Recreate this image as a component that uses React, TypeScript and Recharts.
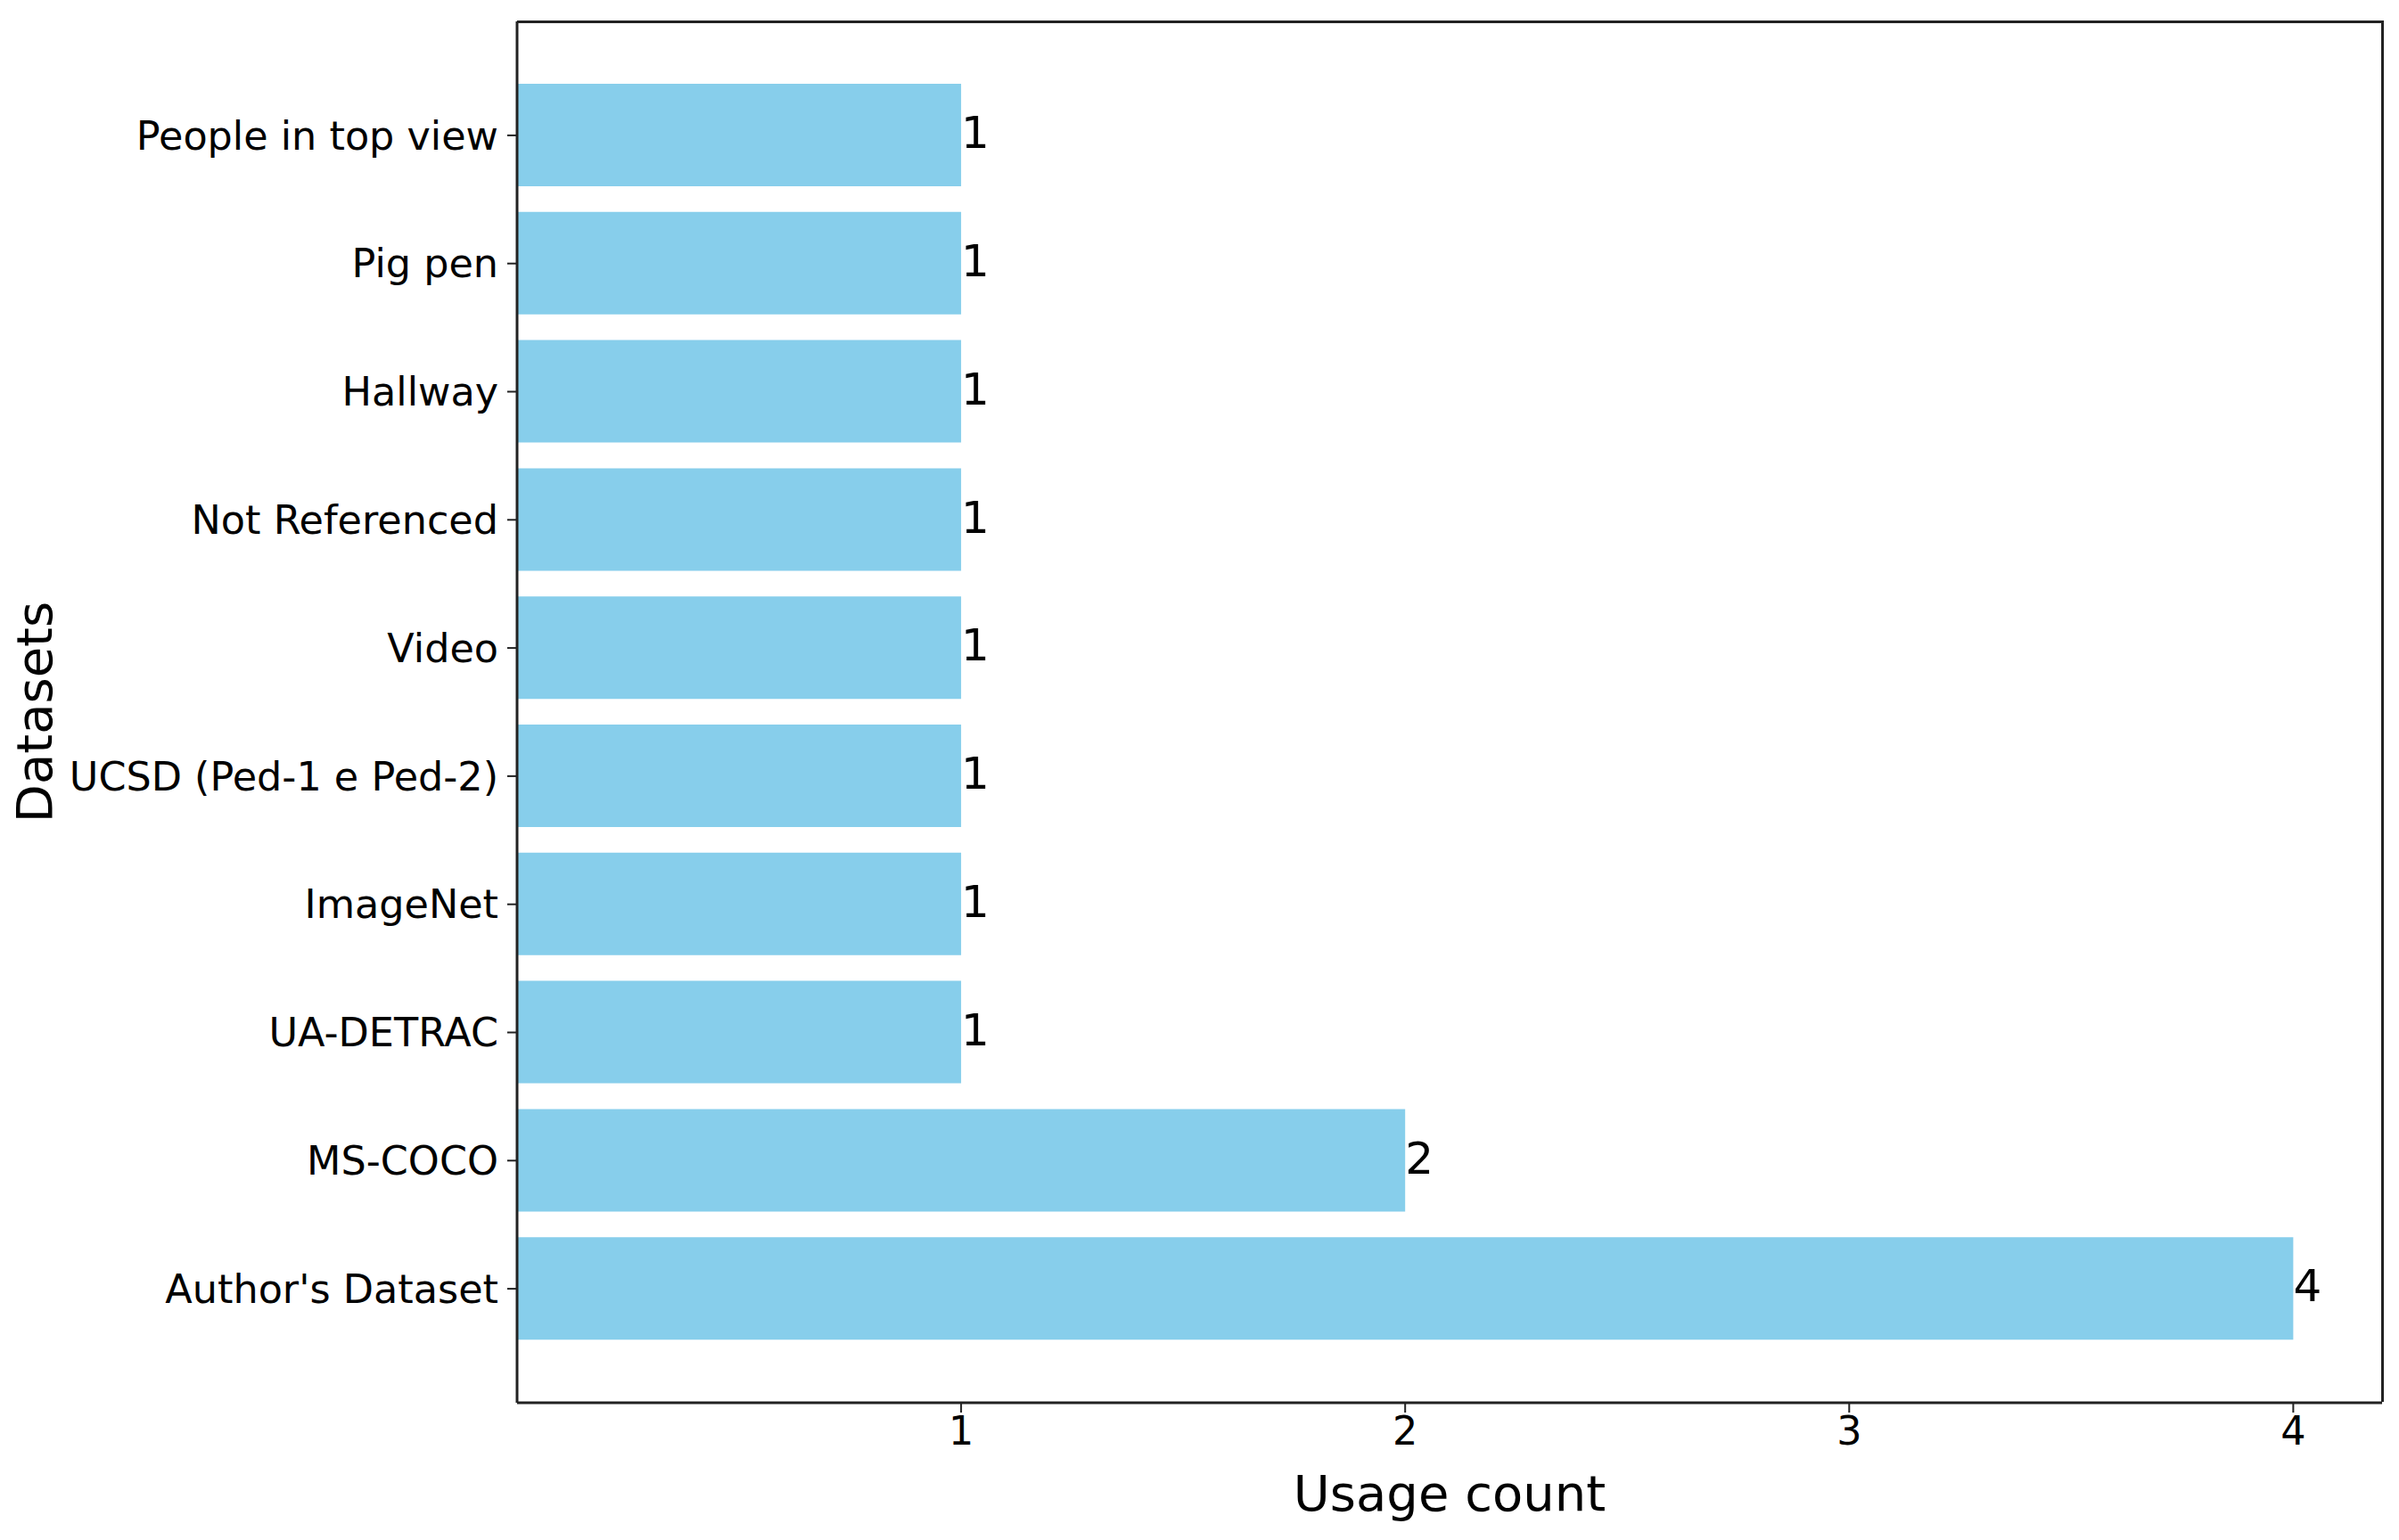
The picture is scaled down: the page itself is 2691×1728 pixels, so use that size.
import React from 'react';
import { BarChart, Bar, XAxis, YAxis, LabelList } from 'recharts';

const datasets = [
  'People in top view',
  'Pig pen',
  'Hallway',
  'Not Referenced',
  'Video',
  'UCSD (Ped-1 e Ped-2)',
  'ImageNet',
  'UA-DETRAC',
  'MS-COCO',
  "Author's Dataset",
];
const usage = [1, 1, 1, 1, 1, 1, 1, 1, 2, 4];
const xTicks = [1, 2, 3, 4];

const data = datasets.map((name, i) => ({ name, count: usage[i] }));

const FONT = '"DejaVu Sans", sans-serif';
const AXIS = '#222';

// plot box, matches the chart margins below
const PLOT = { left: 580, top: 24, width: 2092, height: 1550 };

export default function App() {
  return (
    <div style={{ position: 'absolute', left: 0, top: 0, width: 2691, height: 1728, background: '#fff', fontFamily: FONT }}>
      <BarChart
        width={2691}
        height={1728}
        data={data}
        layout="vertical"
        margin={{ top: 24, right: 19, bottom: 0, left: 0 }}
      >
        <XAxis
          type="number"
          domain={[0, 4.2]}
          ticks={xTicks}
          allowDataOverflow
          height={154}
          axisLine={{ stroke: AXIS, strokeWidth: 3 }}
          tickLine={{ stroke: AXIS, strokeWidth: 2 }}
          tickSize={11}
          tickMargin={4}
          tick={{ fill: '#000', fontSize: 44.5, fontFamily: FONT }}
          label={{ value: 'Usage count', position: 'insideBottom', offset: 33, fill: '#000', fontSize: 56, fontFamily: FONT }}
        />
        <YAxis
          type="category"
          dataKey="name"
          width={580}
          padding={{ top: 56, bottom: 56 }}
          axisLine={{ stroke: AXIS, strokeWidth: 3 }}
          tickLine={{ stroke: AXIS, strokeWidth: 2 }}
          tickSize={11}
          tickMargin={10}
          tick={{ fill: '#000', fontSize: 44.5, fontFamily: FONT }}
          interval={0}
          label={{ value: 'Datasets', angle: -90, position: 'insideLeft', offset: 38, fill: '#000', fontSize: 56, fontFamily: FONT, style: { textAnchor: 'middle' } }}
        />
        <Bar dataKey="count" fill="#87CEEB" barSize={115} isAnimationActive={false}>
          <LabelList dataKey="count" position="right" offset={0} dy={-3} fill="#000" fontSize={50} fontFamily={FONT} />
        </Bar>
      </BarChart>
      {/* top and right spines */}
      <div
        style={{
          position: 'absolute',
          left: PLOT.left,
          top: PLOT.top - 1.5,
          width: PLOT.width + 1.5,
          height: PLOT.height,
          borderTop: `3px solid ${AXIS}`,
          borderRight: `3px solid ${AXIS}`,
          boxSizing: 'border-box',
          pointerEvents: 'none',
        }}
      />
    </div>
  );
}
